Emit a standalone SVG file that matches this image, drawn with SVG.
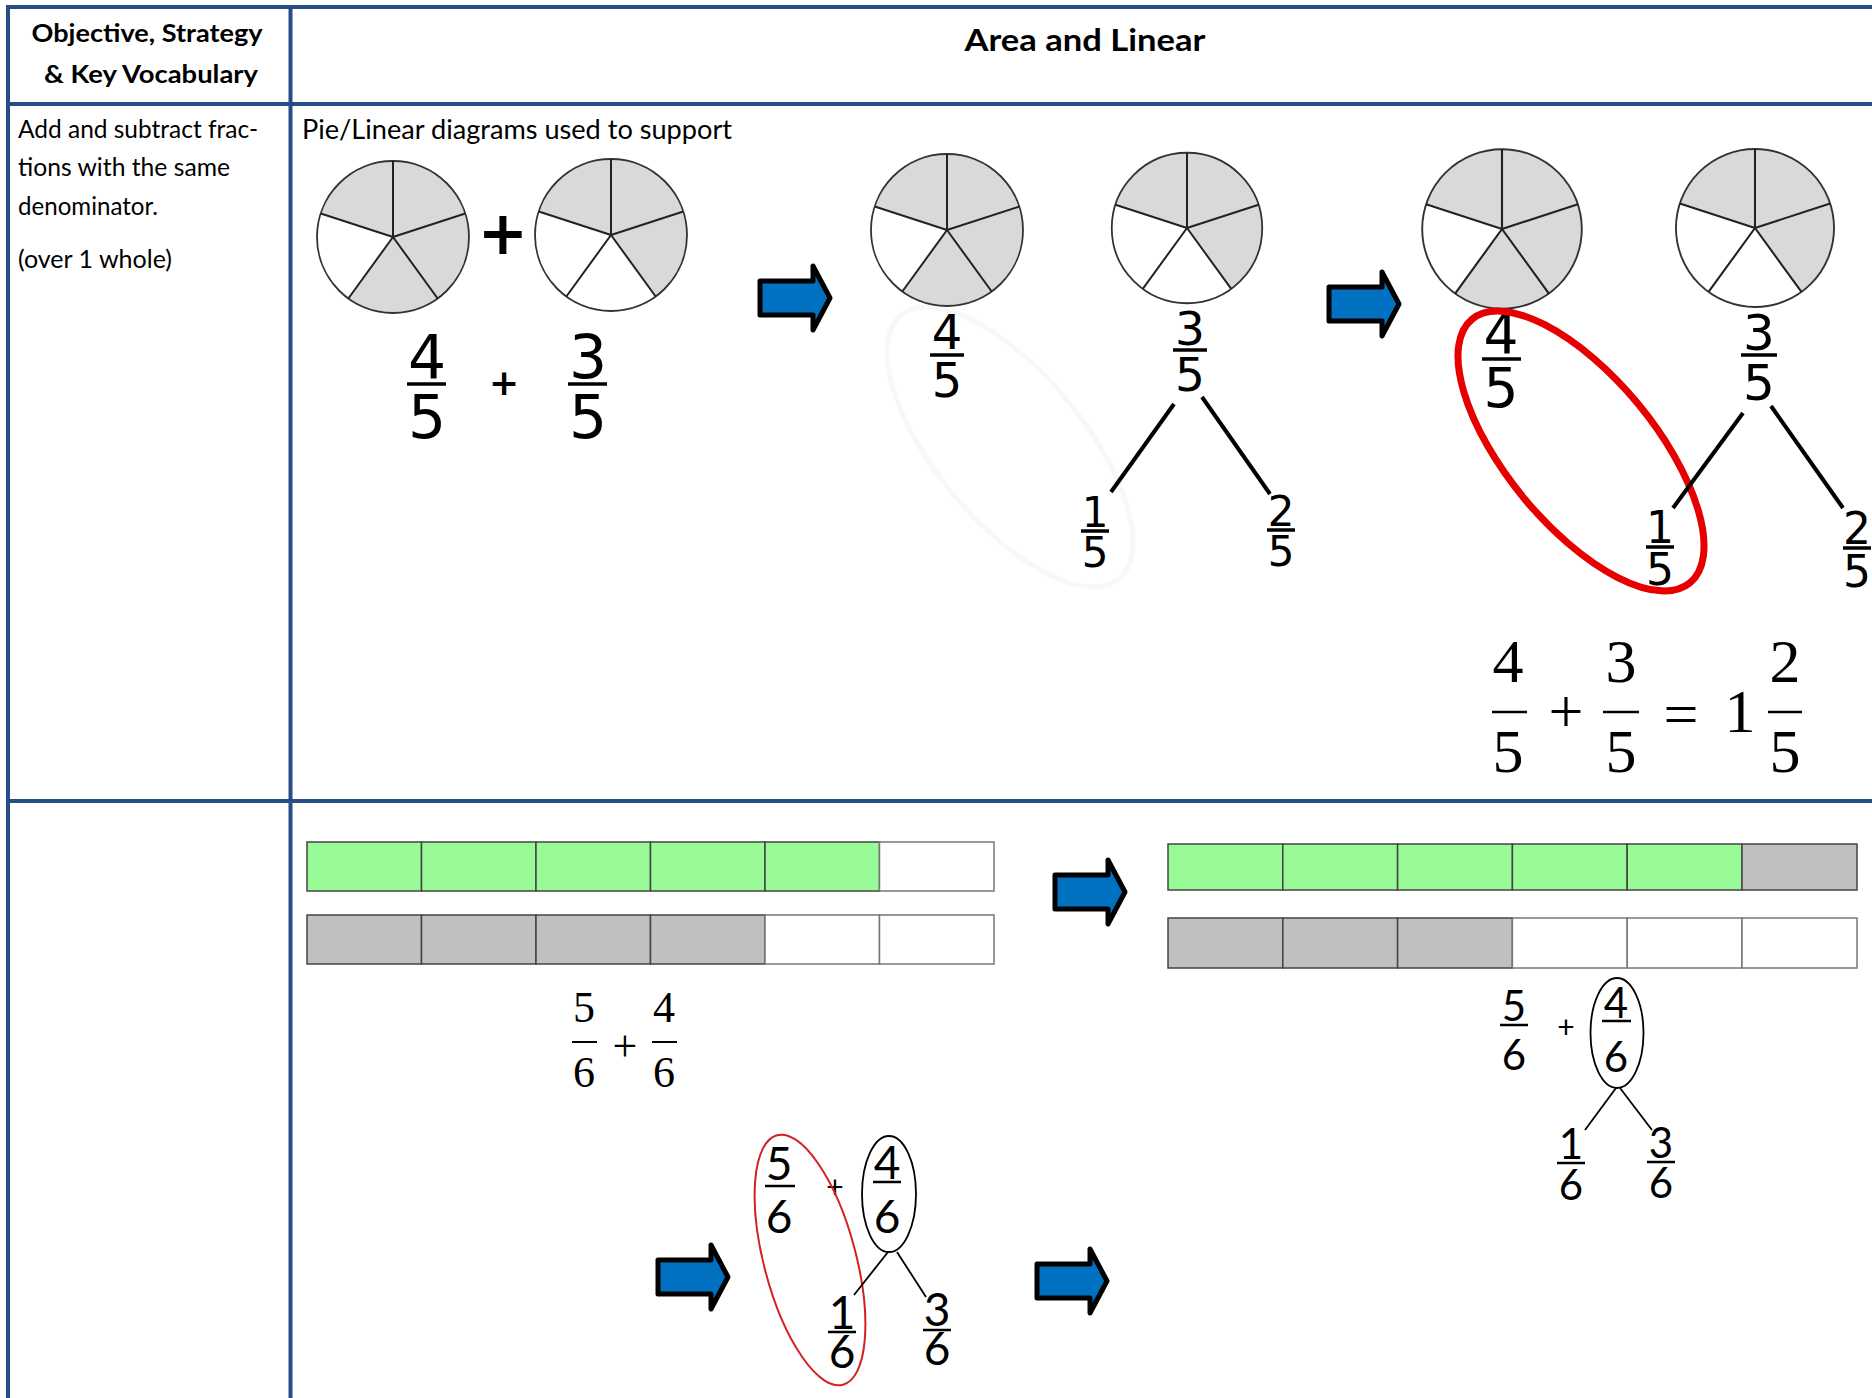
<svg xmlns="http://www.w3.org/2000/svg" width="1872" height="1398" viewBox="0 0 1872 1398">
<style>
.grid{stroke:#264D86;stroke-width:4;fill:none}
.hdr{font-family:Lato,"Open Sans",sans-serif;font-weight:700;font-size:25px;fill:#000;text-anchor:middle}
.body{font-family:Lato,"Open Sans",sans-serif;font-size:25px;fill:#000}
.fr{font-family:"DejaVu Sans",sans-serif;text-anchor:middle;fill:#000}
.sv{font-family:"Liberation Serif",serif;text-anchor:middle;fill:#000}
.cl{font-family:Lato,"Open Sans",sans-serif;text-anchor:middle;fill:#000}
.fb{stroke:#000;stroke-width:3.5}
.fbt{stroke:#000;stroke-width:2.5}
.tree{stroke:#000;stroke-width:4}
.treet{stroke:#000;stroke-width:1.8}
.arrow{fill:#0070C0;stroke:#000;stroke-width:5;stroke-linejoin:round}
.pg{fill:#D9D9D9}
.po{fill:none;stroke:#333;stroke-width:1.8}
.pl{stroke:#222;stroke-width:2}
.green{fill:#98FB98;stroke:#444;stroke-width:1.5}
.gray{fill:#C0C0C0;stroke:#444;stroke-width:1.5}
.white{fill:#fff;stroke:#777;stroke-width:1.5}
</style>
<defs>
<g id="pieLines">
<circle r="76" class="po"/>
<path class="pl" d="M0,0V-76M0,0L72.28,-23.48M0,0L44.67,61.48M0,0L-44.67,61.48M0,0L-72.28,-23.48"/>
</g>
<g id="pie45">
<circle r="76" fill="#fff"/>
<path class="pg" d="M0,0L0,-76A76,76 0 1 1 -44.67,61.48Z"/>
<path class="pg" d="M0,0L-72.28,-23.48A76,76 0 0 1 0,-76Z"/>
<use href="#pieLines"/>
</g>
<g id="pie35">
<circle r="76" fill="#fff"/>
<path class="pg" d="M0,0L0,-76A76,76 0 0 1 44.67,61.48Z"/>
<path class="pg" d="M0,0L-72.28,-23.48A76,76 0 0 1 0,-76Z"/>
<use href="#pieLines"/>
</g>
<path id="arr" class="arrow" d="M0,15H53V0L70,32L53,64V49H0Z"/>
</defs>
<rect width="1872" height="1398" fill="#fff"/>

<g id="table">
<path class="grid" d="M6,7H1872M8,5V1398M8,104H1872M290.5,7V1398M8,801H1872"/>
</g>

<g id="header">
<text class="hdr" x="147" y="42" textLength="231" lengthAdjust="spacingAndGlyphs">Objective, Strategy</text>
<text class="hdr" x="151" y="83" textLength="214" lengthAdjust="spacingAndGlyphs">&amp; Key Vocabulary</text>
<text class="hdr" x="1085" y="51" style="font-size:30px" textLength="241" lengthAdjust="spacingAndGlyphs">Area and Linear</text>
</g>

<g id="objective">
<text class="body" x="18" y="138" textLength="240" lengthAdjust="spacingAndGlyphs">Add and subtract frac-</text>
<text class="body" x="18" y="176" textLength="212" lengthAdjust="spacingAndGlyphs">tions with the same</text>
<text class="body" x="18" y="215" textLength="140" lengthAdjust="spacingAndGlyphs">denominator.</text>
<text class="body" x="18" y="268" textLength="154" lengthAdjust="spacingAndGlyphs">(over 1 whole)</text>
</g>

<g id="caption">
<text class="body" x="302" y="139" style="font-size:26px" textLength="430" lengthAdjust="spacingAndGlyphs">Pie/Linear diagrams used to support</text>
</g>

<!-- Section 1 -->
<g id="pie1"><use href="#pie45" transform="translate(393,237)"/></g>
<g id="pie2"><use href="#pie35" transform="translate(611,235)"/></g>
<g id="plusBig"><text class="fr" x="503" y="254" style="font-size:60px;font-weight:700">+</text></g>
<g id="frac1"><text class="fr" x="427" y="378" style="font-size:60px">4</text><line class="fb" x1="407" y1="384" x2="446" y2="384"/><text class="fr" x="427" y="438" style="font-size:60px">5</text></g>
<g id="plusSmall1"><text class="fr" x="504" y="395" style="font-size:36px;font-weight:700">+</text></g>
<g id="frac2"><text class="fr" x="588" y="378" style="font-size:60px">3</text><line class="fb" x1="568" y1="384" x2="607" y2="384"/><text class="fr" x="588" y="438" style="font-size:60px">5</text></g>

<g id="arrow1"><use href="#arr" transform="translate(760,266)"/></g>

<!-- Section 2 -->
<g id="ghost"><ellipse cx="1010" cy="447" rx="171" ry="74" transform="rotate(50.4 1010 447)" fill="none" stroke="#f8f8f8" stroke-width="5"/></g>
<g id="pie3"><use href="#pie45" transform="translate(947,230)"/></g>
<g id="pie4"><use href="#pie35" transform="translate(1187,228) scale(0.99)"/></g>
<g id="frac3"><text class="fr" x="947" y="349" style="font-size:48px">4</text><line class="fb" x1="930" y1="355" x2="964" y2="355"/><text class="fr" x="947" y="397" style="font-size:48px">5</text></g>
<g id="frac4"><text class="fr" x="1190" y="345" style="font-size:47px">3</text><line class="fb" x1="1173" y1="350" x2="1207" y2="350"/><text class="fr" x="1190" y="391" style="font-size:47px">5</text></g>
<g id="frac5"><text class="fr" x="1095" y="527" style="font-size:42px">1</text><line class="fb" x1="1081" y1="531" x2="1109" y2="531"/><text class="fr" x="1095" y="567" style="font-size:42px">5</text></g>
<g id="frac6"><text class="fr" x="1281" y="526" style="font-size:42px">2</text><line class="fb" x1="1267" y1="530" x2="1295" y2="530"/><text class="fr" x="1281" y="566" style="font-size:42px">5</text></g>

<g id="arrow2"><use href="#arr" transform="translate(1329,272)"/></g>

<!-- Section 3 -->
<g id="pie5"><use href="#pie45" transform="translate(1502,229) scale(1.05)"/></g>
<g id="pie6"><use href="#pie35" transform="translate(1755,228) scale(1.04)"/></g>
<g id="frac7"><text class="fr" x="1501" y="353" style="font-size:55px">4</text><line class="fb" x1="1482" y1="359" x2="1521" y2="359"/><text class="fr" x="1501" y="407" style="font-size:55px">5</text></g>
<g id="frac8"><text class="fr" x="1759" y="350" style="font-size:50px">3</text><line class="fb" x1="1741" y1="355" x2="1777" y2="355"/><text class="fr" x="1759" y="400" style="font-size:50px">5</text></g>
<g id="frac9"><text class="fr" x="1660" y="543" style="font-size:44px">1</text><line class="fb" x1="1646" y1="547" x2="1674" y2="547"/><text class="fr" x="1660" y="585" style="font-size:44px">5</text></g>
<g id="frac10"><text class="fr" x="1857" y="544" style="font-size:44px">2</text><line class="fb" x1="1843" y1="548" x2="1871" y2="548"/><text class="fr" x="1857" y="587" style="font-size:44px">5</text></g>
<g id="redRing"><ellipse cx="1581" cy="451" rx="171" ry="74" transform="rotate(50.4 1581 451)" fill="none" stroke="#E60000" stroke-width="7"/></g>

<g id="equation">
<text class="sv" x="1508" y="682" style="font-size:62px">4</text><line class="fbt" x1="1492" y1="712" x2="1527" y2="712"/><text class="sv" x="1508" y="772" style="font-size:62px">5</text>
<text class="sv" x="1566" y="732" style="font-size:62px">+</text>
<text class="sv" x="1621" y="682" style="font-size:62px">3</text><line class="fbt" x1="1603" y1="712" x2="1639" y2="712"/><text class="sv" x="1621" y="772" style="font-size:62px">5</text>
<text class="sv" x="1681" y="735" style="font-size:62px">=</text>
<text class="sv" x="1740" y="732" style="font-size:62px">1</text>
<text class="sv" x="1785" y="682" style="font-size:62px">2</text><line class="fbt" x1="1768" y1="712" x2="1802" y2="712"/><text class="sv" x="1785" y="772" style="font-size:62px">5</text>
</g>

<!-- Bottom row -->
<g id="barsLeft">
<rect class="green" x="307" y="842" width="114.5" height="49"/><rect class="green" x="421.5" y="842" width="114.5" height="49"/><rect class="green" x="536" y="842" width="114.5" height="49"/><rect class="green" x="650.5" y="842" width="114.5" height="49"/><rect class="green" x="765" y="842" width="114.5" height="49"/><rect class="white" x="879.5" y="842" width="114.5" height="49"/>
<rect class="gray" x="307" y="915" width="114.5" height="49"/><rect class="gray" x="421.5" y="915" width="114.5" height="49"/><rect class="gray" x="536" y="915" width="114.5" height="49"/><rect class="gray" x="650.5" y="915" width="114.5" height="49"/><rect class="white" x="765" y="915" width="114.5" height="49"/><rect class="white" x="879.5" y="915" width="114.5" height="49"/>
</g>
<g id="eqLeft">
<text class="sv" x="584" y="1022" style="font-size:44px">5</text><line class="fbt" x1="572" y1="1042" x2="597" y2="1042" style="stroke-width:2"/><text class="sv" x="584" y="1087" style="font-size:44px">6</text>
<text class="sv" x="625" y="1061" style="font-size:44px">+</text>
<text class="sv" x="664" y="1022" style="font-size:44px">4</text><line class="fbt" x1="652" y1="1042" x2="677" y2="1042" style="stroke-width:2"/><text class="sv" x="664" y="1087" style="font-size:44px">6</text>
</g>

<g id="arrow3"><use href="#arr" transform="translate(1055,860)"/></g>

<g id="barsRight">
<rect class="green" x="1168" y="844" width="114.8" height="46"/><rect class="green" x="1282.8" y="844" width="114.8" height="46"/><rect class="green" x="1397.6" y="844" width="114.8" height="46"/><rect class="green" x="1512.4" y="844" width="114.8" height="46"/><rect class="green" x="1627.2" y="844" width="114.8" height="46"/><rect class="gray" x="1742" y="844" width="115" height="46"/>
<rect class="gray" x="1168" y="918" width="114.8" height="50"/><rect class="gray" x="1282.8" y="918" width="114.8" height="50"/><rect class="gray" x="1397.6" y="918" width="114.8" height="50"/><rect class="white" x="1512.4" y="918" width="114.8" height="50"/><rect class="white" x="1627.2" y="918" width="114.8" height="50"/><rect class="white" x="1742" y="918" width="115" height="50"/>
</g>
<g id="eqRight">
<text class="cl" x="1514" y="1021" style="font-size:42px">5</text><line class="fbt" x1="1500" y1="1025" x2="1528" y2="1025"/><text class="cl" x="1514" y="1070" style="font-size:42px">6</text>
<text class="cl" x="1566" y="1038" style="font-size:30px">+</text>
<ellipse cx="1617" cy="1033" rx="26.5" ry="55" fill="none" stroke="#000" stroke-width="1.8"/>
<text class="cl" x="1616" y="1018" style="font-size:42px">4</text><line class="fbt" x1="1602" y1="1021" x2="1631" y2="1021"/><text class="cl" x="1616" y="1072" style="font-size:42px">6</text>
<text class="cl" x="1571" y="1159" style="font-size:42px">1</text><line class="fbt" x1="1557" y1="1163" x2="1585" y2="1163"/><text class="cl" x="1571" y="1200" style="font-size:42px">6</text>
<text class="cl" x="1661" y="1158" style="font-size:42px">3</text><line class="fbt" x1="1647" y1="1162" x2="1675" y2="1162"/><text class="cl" x="1661" y="1198" style="font-size:42px">6</text>
</g>

<g id="arrow4"><use href="#arr" transform="translate(658,1245)"/></g>
<g id="eqMid">
<text class="cl" x="779" y="1180" style="font-size:46px">5</text><line class="fbt" x1="765" y1="1186" x2="795" y2="1186"/><text class="cl" x="779" y="1233" style="font-size:46px">6</text>
<text class="cl" x="835" y="1198" style="font-size:30px">+</text>
<ellipse cx="889" cy="1194" rx="27" ry="58" fill="none" stroke="#000" stroke-width="1.8"/>
<text class="cl" x="887" y="1179" style="font-size:46px">4</text><line class="fbt" x1="873" y1="1182" x2="901" y2="1182"/><text class="cl" x="887" y="1233" style="font-size:46px">6</text>
<text class="cl" x="842" y="1329" style="font-size:46px">1</text><line class="fbt" x1="828" y1="1332" x2="856" y2="1332"/><text class="cl" x="842" y="1368" style="font-size:46px">6</text>
<text class="cl" x="937" y="1326" style="font-size:46px">3</text><line class="fbt" x1="923" y1="1330" x2="951" y2="1330"/><text class="cl" x="937" y="1365" style="font-size:46px">6</text>
<ellipse cx="810" cy="1260" rx="129" ry="46" transform="rotate(75.2 810 1260)" fill="none" stroke="#D42020" stroke-width="2"/>
</g>
<g id="arrow5"><use href="#arr" transform="translate(1037,1249)"/></g>

<g id="connectors">
<line class="tree" x1="1174" y1="404" x2="1111" y2="492"/>
<line class="tree" x1="1202" y1="397" x2="1270" y2="494"/>
<line class="tree" x1="1743" y1="413" x2="1673" y2="508"/>
<line class="tree" x1="1771" y1="406" x2="1843" y2="508"/>
<line class="treet" x1="1616" y1="1088" x2="1585" y2="1130"/>
<line class="treet" x1="1620" y1="1088" x2="1652" y2="1130"/>
<line class="treet" x1="888" y1="1252" x2="854" y2="1295"/>
<line class="treet" x1="897" y1="1252" x2="926" y2="1297"/>
</g>
</svg>
